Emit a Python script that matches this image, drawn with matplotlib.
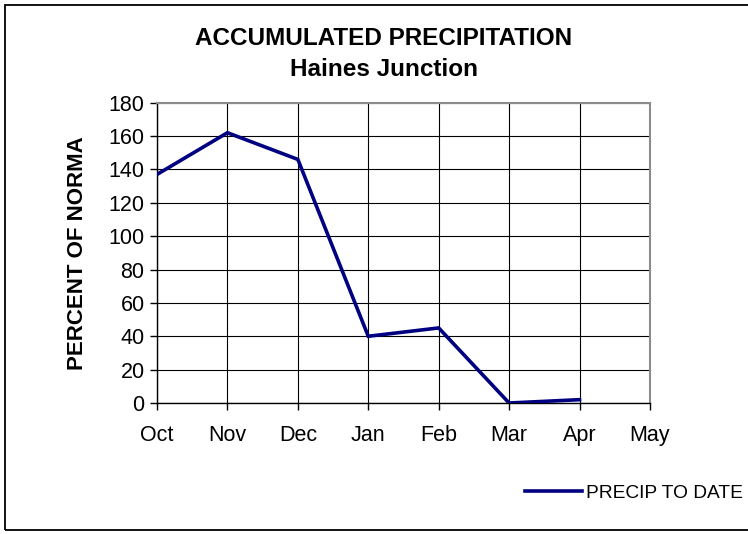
import matplotlib.pyplot as plt
from matplotlib.patches import Rectangle

plt.rcParams['font.family'] = ['Liberation Sans', 'DejaVu Sans']

# data
months = ['Oct', 'Nov', 'Dec', 'Jan', 'Feb', 'Mar', 'Apr', 'May']
precip_to_date = [137, 162, 146, 40, 45, 0, 2]
y_ticks = list(range(0, 181, 20))

fig = plt.figure(figsize=(7.48, 5.34), dpi=100)
fig.patches.append(Rectangle((0.0067, 0.0075), 1.2, 0.983, transform=fig.transFigure,
                             fill=False, edgecolor='black', linewidth=1.3))

ax = fig.add_axes([0.2099, 0.2453, 0.659, 0.5624])
x = list(range(len(precip_to_date)))
ax.plot(x, precip_to_date, color='#000080', linewidth=2.6, label='PRECIP TO DATE',
        solid_joinstyle='miter', zorder=3)

ax.set_xlim(0, len(months) - 1)
ax.set_ylim(0, 180)
ax.set_xticks(range(len(months)))
ax.set_xticklabels(months)
ax.set_yticks(y_ticks)
ax.grid(True, color='black', linewidth=0.8)
ax.set_axisbelow(True)

for side in ['top', 'right']:
    ax.spines[side].set_color('#8c8c8c')
    ax.spines[side].set_linewidth(1.5)
for side in ['left', 'bottom']:
    ax.spines[side].set_color('black')
    ax.spines[side].set_linewidth(1.0)

ax.tick_params(axis='both', direction='out', length=5, width=1, labelsize=15.5, colors='black')
ax.tick_params(axis='x', pad=11)
ax.tick_params(axis='y', pad=4)

ax.set_ylabel('PERCENT OF NORMA', fontsize=16, fontweight='bold', labelpad=15)

fig.text(0.513, 0.928, 'ACCUMULATED PRECIPITATION', ha='center', va='center',
         fontsize=17.5, fontweight='bold')
fig.text(0.513, 0.869, 'Haines Junction', ha='center', va='center',
         fontsize=17.5, fontweight='bold')

fig.legend(loc='center left', bbox_to_anchor=(0.702, 0.077), frameon=False,
           fontsize=13.8, handlelength=2.97, handletextpad=0.22, borderpad=0, borderaxespad=0)

fig.savefig('out.png', dpi=100)
